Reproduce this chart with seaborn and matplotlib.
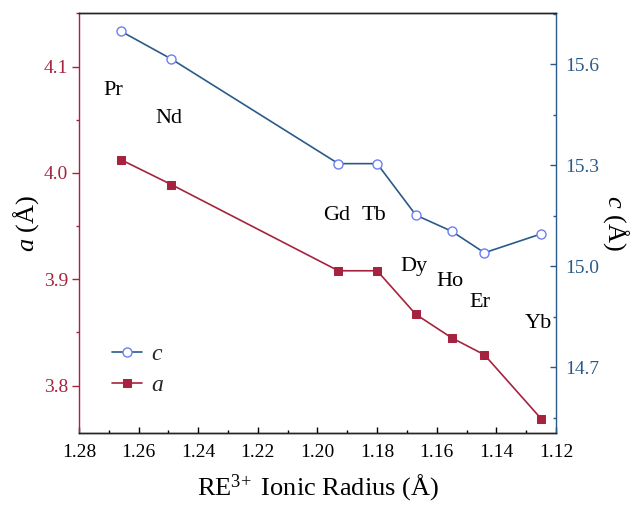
import matplotlib
matplotlib.use("Agg")
import matplotlib.pyplot as plt
import seaborn as sns
import pandas as pd
from matplotlib.ticker import MultipleLocator, FormatStrFormatter

# Lattice parameters versus RE3+ ionic radius
elements = ["Pr", "Nd", "Gd", "Tb", "Dy", "Ho", "Er", "Yb"]
radius = [1.266, 1.249, 1.193, 1.180, 1.167, 1.155, 1.144, 1.125]
a_param = [4.0125, 3.989, 3.908, 3.908, 3.867, 3.845, 3.829, 3.769]
c_param = [15.699, 15.616, 15.305, 15.305, 15.152, 15.104, 15.040, 15.096]

# element label anchors (radius, a-axis value)
label_x = [1.2686, 1.250, 1.1935, 1.181, 1.1676, 1.1555, 1.1455, 1.126]
label_y = [4.077, 4.051, 3.960, 3.960, 3.912, 3.898, 3.878, 3.858]

df = pd.DataFrame({"radius": radius, "a": a_param, "c": c_param})

sns.set_theme(style="white")
plt.rcParams["font.family"] = ["Liberation Serif", "DejaVu Serif"]
plt.rcParams["mathtext.fontset"] = "custom"
plt.rcParams["mathtext.rm"] = "Liberation Serif"
plt.rcParams["mathtext.it"] = "Liberation Serif:italic"

RED = "#A6233F"
BLUE = "#2C5A88"
EDGE = "#6E7EF0"

fig = plt.figure(figsize=(6.36, 5.08), dpi=100)
ax = fig.add_axes([0.1242, 0.1476, 0.75, 0.8262])
ax2 = ax.twinx()

sns.lineplot(data=df, x="radius", y="a", ax=ax, color=RED, marker="s",
             markersize=6, markeredgecolor=RED, linewidth=1.2, legend=False)
sns.lineplot(data=df, x="radius", y="c", ax=ax2, color=BLUE, marker="o",
             markersize=6.5, markerfacecolor="white", markeredgecolor=EDGE,
             markeredgewidth=1.0, linewidth=1.2, legend=False)

ax.set_xlim(1.28, 1.12)
ax.set_ylim(3.7555, 4.150)
ax2.set_ylim(14.504, 15.752)

ax.xaxis.set_major_locator(MultipleLocator(0.02))
ax.xaxis.set_minor_locator(MultipleLocator(0.01))
ax.xaxis.set_major_formatter(FormatStrFormatter("%.2f"))
ax.yaxis.set_major_locator(MultipleLocator(0.1))
ax.yaxis.set_minor_locator(MultipleLocator(0.05))
ax.yaxis.set_major_formatter(FormatStrFormatter("%.1f"))
ax2.yaxis.set_major_locator(MultipleLocator(0.3))
ax2.yaxis.set_minor_locator(MultipleLocator(0.15))
ax2.yaxis.set_major_formatter(FormatStrFormatter("%.1f"))

for a_ in (ax, ax2):
    for s in a_.spines.values():
        s.set_linewidth(1.0)
ax.spines["left"].set_color(RED)
ax.spines["bottom"].set_color("black")
ax.spines["top"].set_color("black")
ax2.spines["right"].set_color(BLUE)
ax2.spines["left"].set_visible(False)
ax.spines["right"].set_visible(False)

ax.tick_params(axis="x", which="major", direction="in", length=4.5, width=1,
               colors="black", labelsize=14, bottom=True, top=False, pad=8)
ax.tick_params(axis="x", which="minor", direction="in", length=2.5, width=1,
               colors="black", bottom=True, top=False)
ax.tick_params(axis="y", which="major", direction="out", length=5, width=1,
               colors=RED, labelsize=14, left=True, pad=3)
ax.tick_params(axis="y", which="minor", direction="out", length=2.5, width=1,
               colors=RED, left=True)
ax2.tick_params(axis="y", which="major", direction="in", length=4.5, width=1,
                colors=BLUE, labelsize=14, right=True, pad=7)
ax2.tick_params(axis="y", which="minor", direction="in", length=2.5, width=1,
                colors=BLUE, right=True)

ax.set_xlabel(r"RE$^{3\!+}$ Ionic Radius (Å)", fontsize=19, color="black",
              labelpad=8)
ax.set_ylabel(r"$a$ (Å)", fontsize=19, color="black", labelpad=2)
ax2.set_ylabel(r"$c$ (Å)", fontsize=19, color="black", rotation=270,
               labelpad=22)

for name, xx, yy in zip(elements, label_x, label_y):
    ax.text(xx, yy, name, fontsize=16, ha="center", va="center",
            color="black")

# combined legend, c first
h_a = ax.get_lines()[0]
h_c = ax2.get_lines()[0]
leg = ax.legend([h_c, h_a], [r"$c$", r"$a$"], loc="lower left",
                bbox_to_anchor=(0.05, 0.065), frameon=False, fontsize=17,
                handlelength=1.25, handletextpad=0.4, labelspacing=0.4,
                borderaxespad=0)

fig.savefig("out.png", dpi=100)
